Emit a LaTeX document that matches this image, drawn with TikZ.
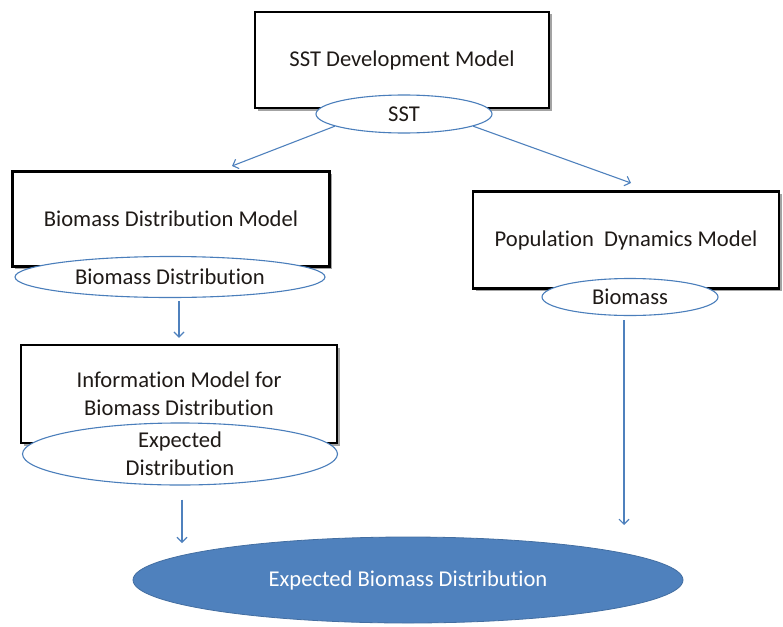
\documentclass[tikz,border=0pt]{standalone}
\usepackage{fontspec}
\setmainfont[Ligatures=NoCommon]{Carlito}
\usetikzlibrary{shapes.geometric,arrows.meta,shadows}
\definecolor{ofblue}{HTML}{4F81BD}
\definecolor{ofedge}{HTML}{4A7EBB}
\definecolor{txt}{HTML}{1F1A17}

\begin{document}
\begin{tikzpicture}[x=1pt,y=-1pt,
  font=\fontsize{22.6}{26}\selectfont,
  modelbox/.style={draw=black, line width=2.5pt, fill=white, rectangle,
    inner sep=0pt, align=center, text=txt,
    drop shadow={shadow xshift=2.5pt, shadow yshift=-2.5pt, fill=black!45, opacity=0.8}},
  outbox/.style={ellipse, draw=ofedge, line width=1.1pt, fill=white,
    inner sep=0pt, align=center, text=txt},
  result/.style={ellipse, draw=ofblue!85!black, line width=0.8pt, fill=ofblue,
    inner sep=0pt, text=white},
  arr/.style={draw=ofblue, line width=1.1pt, -{Straight Barb[length=5pt,width=10pt]}}
]
\useasboundingbox (0,0) rectangle (783,626);

% model boxes
\node[modelbox, minimum width=294pt, minimum height=96pt] (sst) at (402,60)
  {SST Development Model};
\node[modelbox, minimum width=317pt, minimum height=95pt] (bdm) at (171,219)
  {Biomass Distribution Model};
\node[modelbox, minimum width=316pt, minimum height=98pt] (idm) at (179,394)
  {Information Model for\\[2pt] Biomass Distribution};
\node[modelbox, minimum width=306pt, minimum height=97pt] (pdm) at (626,240)
  {Population~\ Dynamics Model};

% model outputs
\node[outbox, minimum width=176pt, minimum height=38pt] (sstE) at (404,114) {SST};
\node[outbox, minimum width=310pt, minimum height=41pt] (bdE) at (170,277)
  {Biomass Distribution};
\node[outbox, minimum width=315pt, minimum height=58pt] (edE) at (180,454)
  {Expected\\[2pt] Distribution};
\node[outbox, minimum width=176pt, minimum height=37pt] (bE) at (630,297) {Biomass};

% final result
\node[result, minimum width=550pt, minimum height=86pt] (ebd) at (408,580)
  {Expected Biomass Distribution};

% arrow ends above the targets
\coordinate (toBdm) at (232,166);
\coordinate (toPdm) at (631,183);
\coordinate (toEbdL) at (182,543);
\coordinate (toEbdR) at (624,525);

% connectors
\draw[arr] (sstE.190) -- (toBdm);
\draw[arr] (sstE.-10) -- (toPdm);
\draw[arr] ([yshift=-3pt]bdE.south -| idm.north) -- ([yshift=6pt]idm.north);
\draw[arr] ([yshift=-14pt]edE.south -| toEbdL) -- (toEbdL);
\draw[arr] ([yshift=-4pt]bE.south -| toEbdR) -- (toEbdR);
\end{tikzpicture}
\end{document}
